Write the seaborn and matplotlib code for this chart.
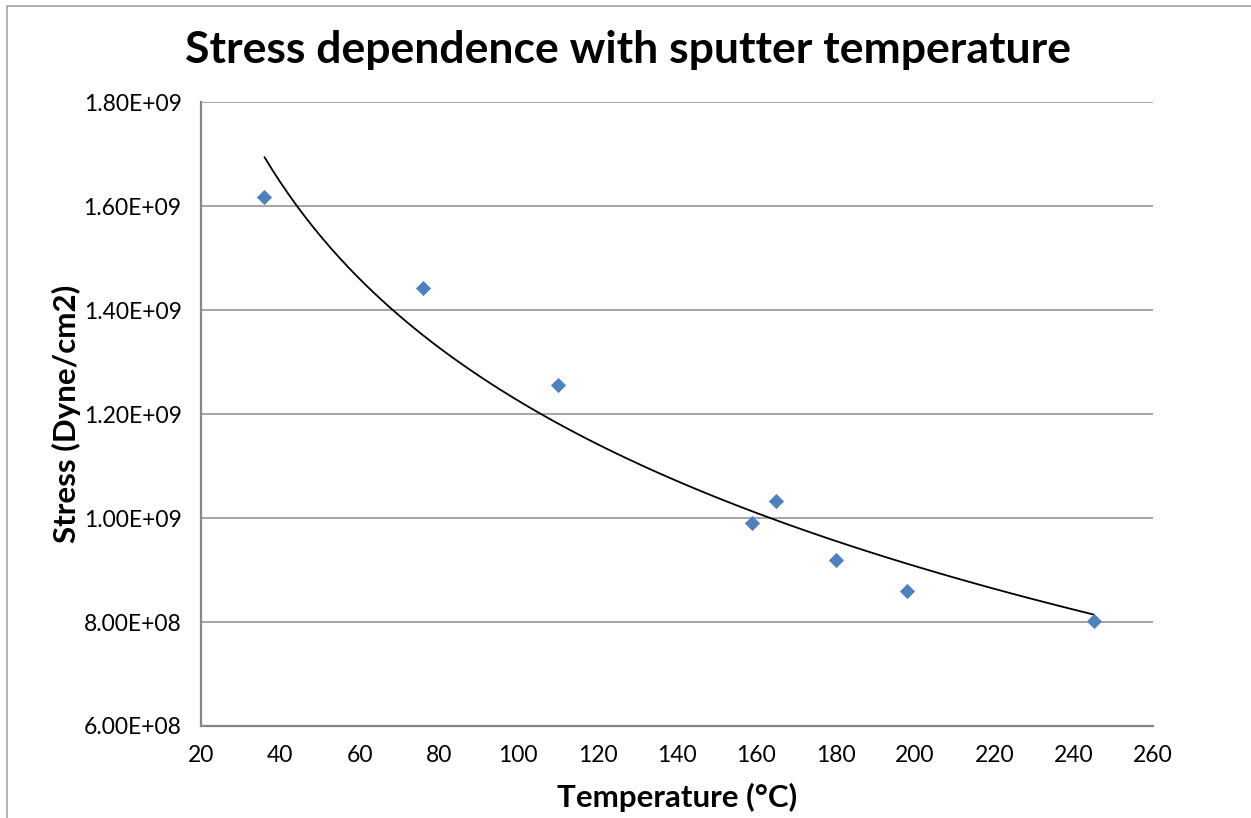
import matplotlib
matplotlib.use("Agg")
import matplotlib.pyplot as plt
from matplotlib.ticker import FuncFormatter
from matplotlib.lines import Line2D
import seaborn as sns
import pandas as pd

# Sputter temperature (°C) and measured film stress (Dyne/cm2)
temperature = [36, 76, 110, 159, 165, 180, 198, 245]
stress = [1.617e9, 1.442e9, 1.255e9, 0.991e9, 1.033e9, 0.919e9, 0.860e9, 0.801e9]

x_ticks = [20, 40, 60, 80, 100, 120, 140, 160, 180, 200, 220, 240, 260]
y_ticks = [6.0e8, 8.0e8, 1.0e9, 1.2e9, 1.4e9, 1.6e9, 1.8e9]

df = pd.DataFrame({"Temperature": temperature, "Stress": stress})

sns.set_theme(style="white")
plt.rcParams["font.family"] = ["Lato", "DejaVu Sans"]
plt.rcParams["text.color"] = "black"
plt.rcParams["axes.labelcolor"] = "black"

fig = plt.figure(figsize=(12.51, 8.18), dpi=100)
ax = fig.add_axes([201 / 1251, 1 - 726 / 818, (1153 - 201) / 1251, (726 - 102) / 818])

# logarithmic trend line plus the measured points
sns.regplot(data=df, x="Temperature", y="Stress", logx=True, ci=None, truncate=True,
            scatter=False, ax=ax, line_kws=dict(color="black", lw=1.3, zorder=3))
sns.scatterplot(data=df, x="Temperature", y="Stress", marker="D", s=60,
                color="#4F81BD", edgecolor="#4F81BD", linewidth=0, ax=ax, zorder=4)

ax.set_xlim(20, 260)
ax.set_ylim(6.0e8, 1.8e9)
ax.set_xticks(x_ticks)
ax.set_yticks(y_ticks)
ax.yaxis.set_major_formatter(FuncFormatter(lambda v, p: f"{v:.2E}"))
ax.tick_params(axis="both", length=0, labelsize=16.5, colors="black")
ax.tick_params(axis="y", pad=14)
ax.tick_params(axis="x", pad=14)
ax.grid(axis="y", color="#8c8c8c", lw=1.1)
ax.grid(axis="x", visible=False)
for side in ("top", "right"):
    ax.spines[side].set_visible(False)
for side in ("left", "bottom"):
    ax.spines[side].set_color("#868686")
    ax.spines[side].set_linewidth(1.6)

ax.set_xlabel("Temperature (°C)", fontsize=22.5, fontweight="bold", labelpad=12)
ax.set_ylabel("Stress (Dyne/cm2)", fontsize=22.5, fontweight="bold", labelpad=2)
fig.text(628 / 1251, 1 - 50 / 818, "Stress dependence with sputter temperature",
         ha="center", va="center", fontsize=32, fontweight="bold")

# chart frame edges
fig.add_artist(Line2D([7 / 1251, 1], [1 - 6 / 818, 1 - 6 / 818], transform=fig.transFigure,
                      color="#a6a6a6", lw=1.2))
fig.add_artist(Line2D([7 / 1251, 7 / 1251], [0, 1 - 6 / 818], transform=fig.transFigure,
                      color="#a6a6a6", lw=1.2))

fig.savefig("out.png", dpi=100, facecolor="white")
